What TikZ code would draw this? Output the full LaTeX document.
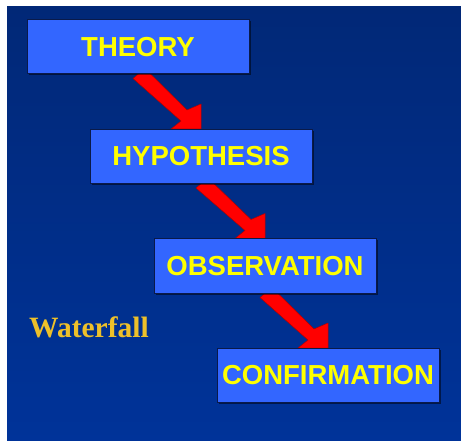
\documentclass[tikz,border=0pt]{standalone}
\usepackage{fontspec}
\setmainfont{Liberation Sans}
\newfontfamily\serifbold{Liberation Serif}
\usetikzlibrary{calc,backgrounds,shadows}
\definecolor{bgtop}{HTML}{012877}
\definecolor{bgbot}{HTML}{003399}
\definecolor{boxblue}{HTML}{3366FF}
\definecolor{boxline}{HTML}{0A1A4A}
\definecolor{txtyellow}{HTML}{FFFF00}
\definecolor{gold}{HTML}{EDC02A}
\definecolor{arrowred}{HTML}{FF0000}
\definecolor{arrowedge}{HTML}{B00000}
\newcommand\fatarrowbetween[2]{%
  \path[fatarrow]
    ($(#2.north)+(0,-25)$) --
    ($(#2.north)+(-14,-19)$) --
    ($(#1.south)+(7,-6)$) --
    ($(#1.south)+(-5,4)$) --
    ($(#2.north)+(-20,-8)$) --
    ($(#2.north)+(-30,0)$) --
    (#2.north) -- cycle;}
\begin{document}
\begin{tikzpicture}[x=1pt,y=-1pt,
  stepbox/.style={draw=boxline, line width=1pt, fill=boxblue,
    minimum width=222pt, minimum height=54pt, inner sep=0pt,
    font=\fontsize{27.5}{30}\selectfont\bfseries, text=txtyellow,
    drop shadow={shadow xshift=1.5pt, shadow yshift=-1.5pt, fill=black, opacity=0.5}},
  fatarrow/.style={fill=arrowred, draw=arrowedge, line width=0.5pt, line join=round},
  labeltext/.style={anchor=base west, inner sep=0pt, text=gold,
    font=\serifbold\bfseries\fontsize{29.5}{32}\selectfont}]
\useasboundingbox (0,0) rectangle (461,441);
\node[stepbox] (theory) at (138,47) {THEORY};
\node[stepbox] (hyp) at (201,156.5) {HYPOTHESIS};
\node[stepbox] (obs) at (265,266) {OBSERVATION};
\node[stepbox] (conf) at (328,375.5) {CONFIRMATION};
\node[labeltext] (wf) at (29,337) {Waterfall};
\begin{scope}[on background layer]
  \fill[white] (0,0) rectangle (461,441);
  \shade[top color=bgtop, bottom color=bgbot] (7,7) rectangle (461,441);
  \fatarrowbetween{theory}{hyp}
  \fatarrowbetween{hyp}{obs}
  \fatarrowbetween{obs}{conf}
\end{scope}
\end{tikzpicture}
\end{document}
